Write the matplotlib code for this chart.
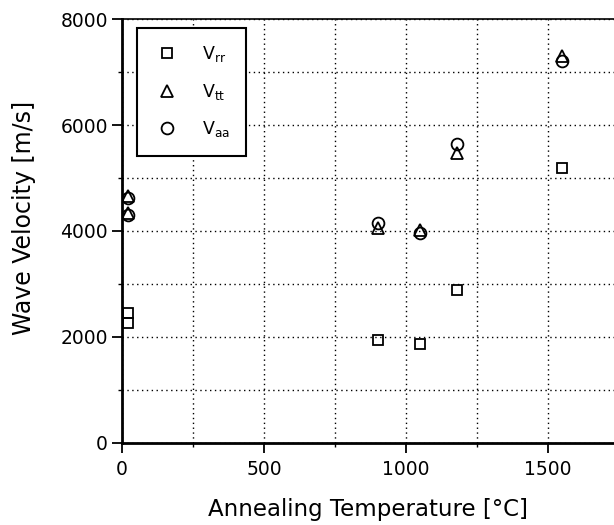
import numpy as np
import matplotlib.pyplot as plt
from matplotlib.ticker import MultipleLocator

plt.rcParams.update({'font.family': ['DejaVu Sans'], 'mathtext.default': 'regular',
                     'xtick.direction': 'out', 'ytick.direction': 'out'})

# annealing temperature (C) and wave velocities (m/s)
temp_rr = [20, 20, 900, 1050, 1180, 1550]
v_rr = [2450, 2270, 1940, 1860, 2890, 5180]

temp_tt = [20, 20, 900, 1050, 1180, 1550]
v_tt = [4660, 4340, 4060, 4020, 5470, 7300]

temp_aa = [20, 20, 900, 1050, 1180, 1550]
v_aa = [4620, 4300, 4150, 3970, 5640, 7215]

fig = plt.figure(figsize=(6.14, 5.25), dpi=100, facecolor='w')
ax = fig.add_axes([0.1987, 0.1562, 0.8013, 0.8076])

mk = dict(linestyle='none', mfc='none', mec='k', mew=1.3)
ax.plot(temp_rr, v_rr, 's', ms=7.8, label='V$_{rr}$', **mk)
ax.plot(temp_tt, v_tt, '^', ms=8.5, label='V$_{tt}$', **mk)
ax.plot(temp_aa, v_aa, 'o', ms=8.5, label='V$_{aa}$', **mk)

ax.set_xlim(0, 1732)
ax.set_ylim(0, 8000)
ax.xaxis.set_major_locator(MultipleLocator(500))
ax.xaxis.set_minor_locator(MultipleLocator(250))
ax.yaxis.set_major_locator(MultipleLocator(2000))
ax.yaxis.set_minor_locator(MultipleLocator(1000))
ax.grid(True, which='both', linestyle=(0, (1, 2.5)), color='k', linewidth=1.0)

for s in ['left', 'bottom']:
    ax.spines[s].set_linewidth(2)
ax.spines['top'].set_linewidth(1.2)
ax.spines['right'].set_visible(False)
ax.tick_params(which='major', length=7, width=1.3, labelsize=13.5, pad=3)
ax.tick_params(which='minor', length=3, width=1.0)
ax.tick_params(axis='x', which='major', pad=5)

ax.set_xlabel("Annealing Temperature [°C]", fontsize=16.5, labelpad=14)
ax.set_ylabel("Wave Velocity [m/s]", fontsize=17)
ax.yaxis.set_label_coords(-0.175, 0.53)

leg = ax.legend(loc='upper left', bbox_to_anchor=(0.0305, 0.979), fontsize=12.5, frameon=True, fancybox=False,
                labelspacing=1.0, handlelength=1.6, handletextpad=1.2, borderpad=0.95, borderaxespad=0)
leg.get_frame().set_edgecolor('k')
leg.get_frame().set_linewidth(1.5)
leg.get_frame().set_alpha(1)

plt.savefig('out.png', dpi=100)
